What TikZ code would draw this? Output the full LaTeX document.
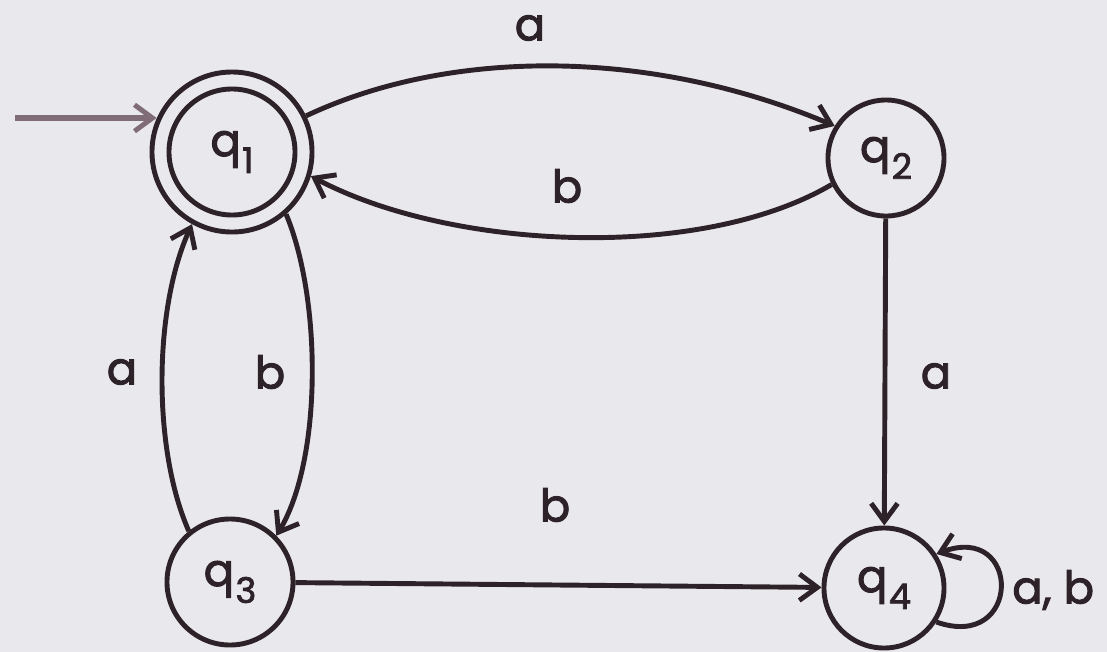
\documentclass[tikz,border=0pt]{standalone}
\usepackage{fontspec}
\setmainfont{Poppins}[FakeBold=2.2]
\usetikzlibrary{arrows.meta}
\definecolor{ink}{RGB}{45,34,40}
\definecolor{paper}{RGB}{233,232,236}
\definecolor{initc}{RGB}{128,108,118}
\newcommand{\qsub}[1]{q\kern1pt\raisebox{-12pt}{\fontsize{25}{25}\selectfont #1}}
\begin{document}
\begin{tikzpicture}[x=0.025cm,y=-0.025cm,
  state/.style={circle,draw=ink,line width=3.5pt,inner sep=0pt,text=ink,font=\fontsize{32}{32}\selectfont},
  tip/.style={-{Straight Barb[length=0.45cm,width=0.66cm,line width=3.5pt]}},
  edge/.style={draw=ink,line width=3.5pt,tip},
  lab/.style={font=\fontsize{32}{32}\selectfont,text=ink,inner sep=0pt}]
\fill[paper] (0,0) rectangle (1107,652);
\useasboundingbox (0,0) rectangle (1107,652);
% states
\node[state,minimum size=4cm] (q1) at (232,152) {};
\node[state,minimum size=3.15cm] (q1in) at (232,152) {\qsub{1}};
\node[state,minimum size=2.9cm] (q2) at (886,158) {\qsub{2}};
\node[state,minimum size=3.15cm] (q3) at (230,582) {\qsub{3}};
\node[state,minimum size=3cm] (q4) at (884,588) {\qsub{4}};
% initial arrow
\coordinate (start) at (15,118);
\draw[draw=initc,line width=4.2pt,-{Straight Barb[length=0.45cm,width=0.66cm,line width=3.5pt]}] (start) -- (start -| q1.156);
% transitions
\draw[edge] (q1.26) .. controls (450,48) and (650,48) .. (q2.148);
\draw[edge] (q2.206) .. controls (700,262) and (450,250) .. (q1.-17);
\draw[edge] (q1.-49) .. controls (322,300) and (322,460) .. (q3.45);
\draw[edge] (q3.129) .. controls (153,450) and (153,310) .. (q1.-119);
\draw[edge] (q2) -- (q4);
\draw[edge] (q3) -- (q4);
\draw[edge] (q4.-33) .. controls (1022,652) and (1022,522) .. (q4.33);
% labels
\node[lab] (la1) at (530,28) {a};
\node[lab] (lb1) at (567,186) {b};
\node[lab] (la2) at (936,376) {a};
\node[lab] (lb2) at (270,372) {b};
\node[lab] (la3) at (122,372) {a};
\node[lab] (lb3) at (555,505) {b};
\node[lab,anchor=west] (lab4) at (1012,590) {a, b};
\end{tikzpicture}
\end{document}
